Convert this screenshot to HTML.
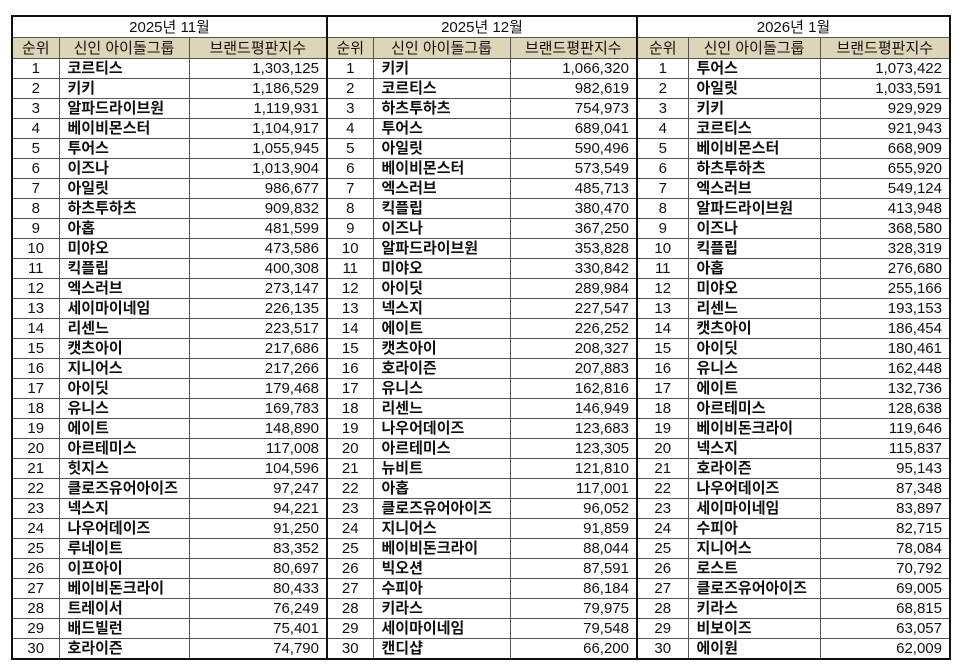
<!DOCTYPE html>
<html><head><meta charset="utf-8"><style>
body{margin:0;background:#fff;width:966px;height:664px;overflow:hidden}
table{position:absolute;left:11px;top:15px;border-collapse:collapse;table-layout:fixed;font-family:"Liberation Sans","Noto Sans CJK KR",sans-serif;font-size:15px;color:#111}
td{border:1px solid #555;height:19px;padding:0;line-height:19px;white-space:nowrap;overflow:hidden}
tr.t td{height:20px;text-align:center;font-size:15px}
tr.h td{background:#dcd5b7;text-align:center;height:20px;font-size:15px}
td.r{text-align:center}
td.n{font-weight:bold;padding-left:8px}
td.s{text-align:right;padding-right:7px}
.L{border-left:2px solid #111}
table{border:2px solid #111}
</style></head><body>
<table>
<colgroup><col style="width:47px"><col style="width:130px"><col style="width:138px"><col style="width:46px"><col style="width:137px"><col style="width:127px"><col style="width:51px"><col style="width:132px"><col style="width:130px"></colgroup>
<tr class="t"><td colspan="3">2025년 11월</td><td colspan="3" class="L">2025년 12월</td><td colspan="3" class="L">2026년 1월</td></tr>
<tr class="h"><td>순위</td><td>신인 아이돌그룹</td><td>브랜드평판지수</td><td class="L">순위</td><td>신인 아이돌그룹</td><td>브랜드평판지수</td><td class="L">순위</td><td>신인 아이돌그룹</td><td>브랜드평판지수</td></tr>
<tbody id="b"></tbody>
</table>
<script>
var a=[["코르티스","1,303,125","키키","1,066,320","투어스","1,073,422"],
["키키","1,186,529","코르티스","982,619","아일릿","1,033,591"],
["알파드라이브원","1,119,931","하츠투하츠","754,973","키키","929,929"],
["베이비몬스터","1,104,917","투어스","689,041","코르티스","921,943"],
["투어스","1,055,945","아일릿","590,496","베이비몬스터","668,909"],
["이즈나","1,013,904","베이비몬스터","573,549","하츠투하츠","655,920"],
["아일릿","986,677","엑스러브","485,713","엑스러브","549,124"],
["하츠투하츠","909,832","킥플립","380,470","알파드라이브원","413,948"],
["아홉","481,599","이즈나","367,250","이즈나","368,580"],
["미야오","473,586","알파드라이브원","353,828","킥플립","328,319"],
["킥플립","400,308","미야오","330,842","아홉","276,680"],
["엑스러브","273,147","아이딧","289,984","미야오","255,166"],
["세이마이네임","226,135","넥스지","227,547","리센느","193,153"],
["리센느","223,517","에이트","226,252","캣츠아이","186,454"],
["캣츠아이","217,686","캣츠아이","208,327","아이딧","180,461"],
["지니어스","217,266","호라이즌","207,883","유니스","162,448"],
["아이딧","179,468","유니스","162,816","에이트","132,736"],
["유니스","169,783","리센느","146,949","아르테미스","128,638"],
["에이트","148,890","나우어데이즈","123,683","베이비돈크라이","119,646"],
["아르테미스","117,008","아르테미스","123,305","넥스지","115,837"],
["힛지스","104,596","뉴비트","121,810","호라이즌","95,143"],
["클로즈유어아이즈","97,247","아홉","117,001","나우어데이즈","87,348"],
["넥스지","94,221","클로즈유어아이즈","96,052","세이마이네임","83,897"],
["나우어데이즈","91,250","지니어스","91,859","수피아","82,715"],
["루네이트","83,352","베이비돈크라이","88,044","지니어스","78,084"],
["이프아이","80,697","빅오션","87,591","로스트","70,792"],
["베이비돈크라이","80,433","수피아","86,184","클로즈유어아이즈","69,005"],
["트레이서","76,249","키라스","79,975","키라스","68,815"],
["배드빌런","75,401","세이마이네임","79,548","비보이즈","63,057"],
["호라이즌","74,790","캔디샵","66,200","에이원","62,009"]];
var h="";a.forEach(function(r,i){var k=i+1;h+="<tr><td class='r'>"+k+"</td><td class='n'>"+r[0]+"</td><td class='s'>"+r[1]+"</td><td class='r L'>"+k+"</td><td class='n'>"+r[2]+"</td><td class='s'>"+r[3]+"</td><td class='r L'>"+k+"</td><td class='n'>"+r[4]+"</td><td class='s'>"+r[5]+"</td></tr>";});
document.getElementById("b").innerHTML=h;
</script>
</body></html>
